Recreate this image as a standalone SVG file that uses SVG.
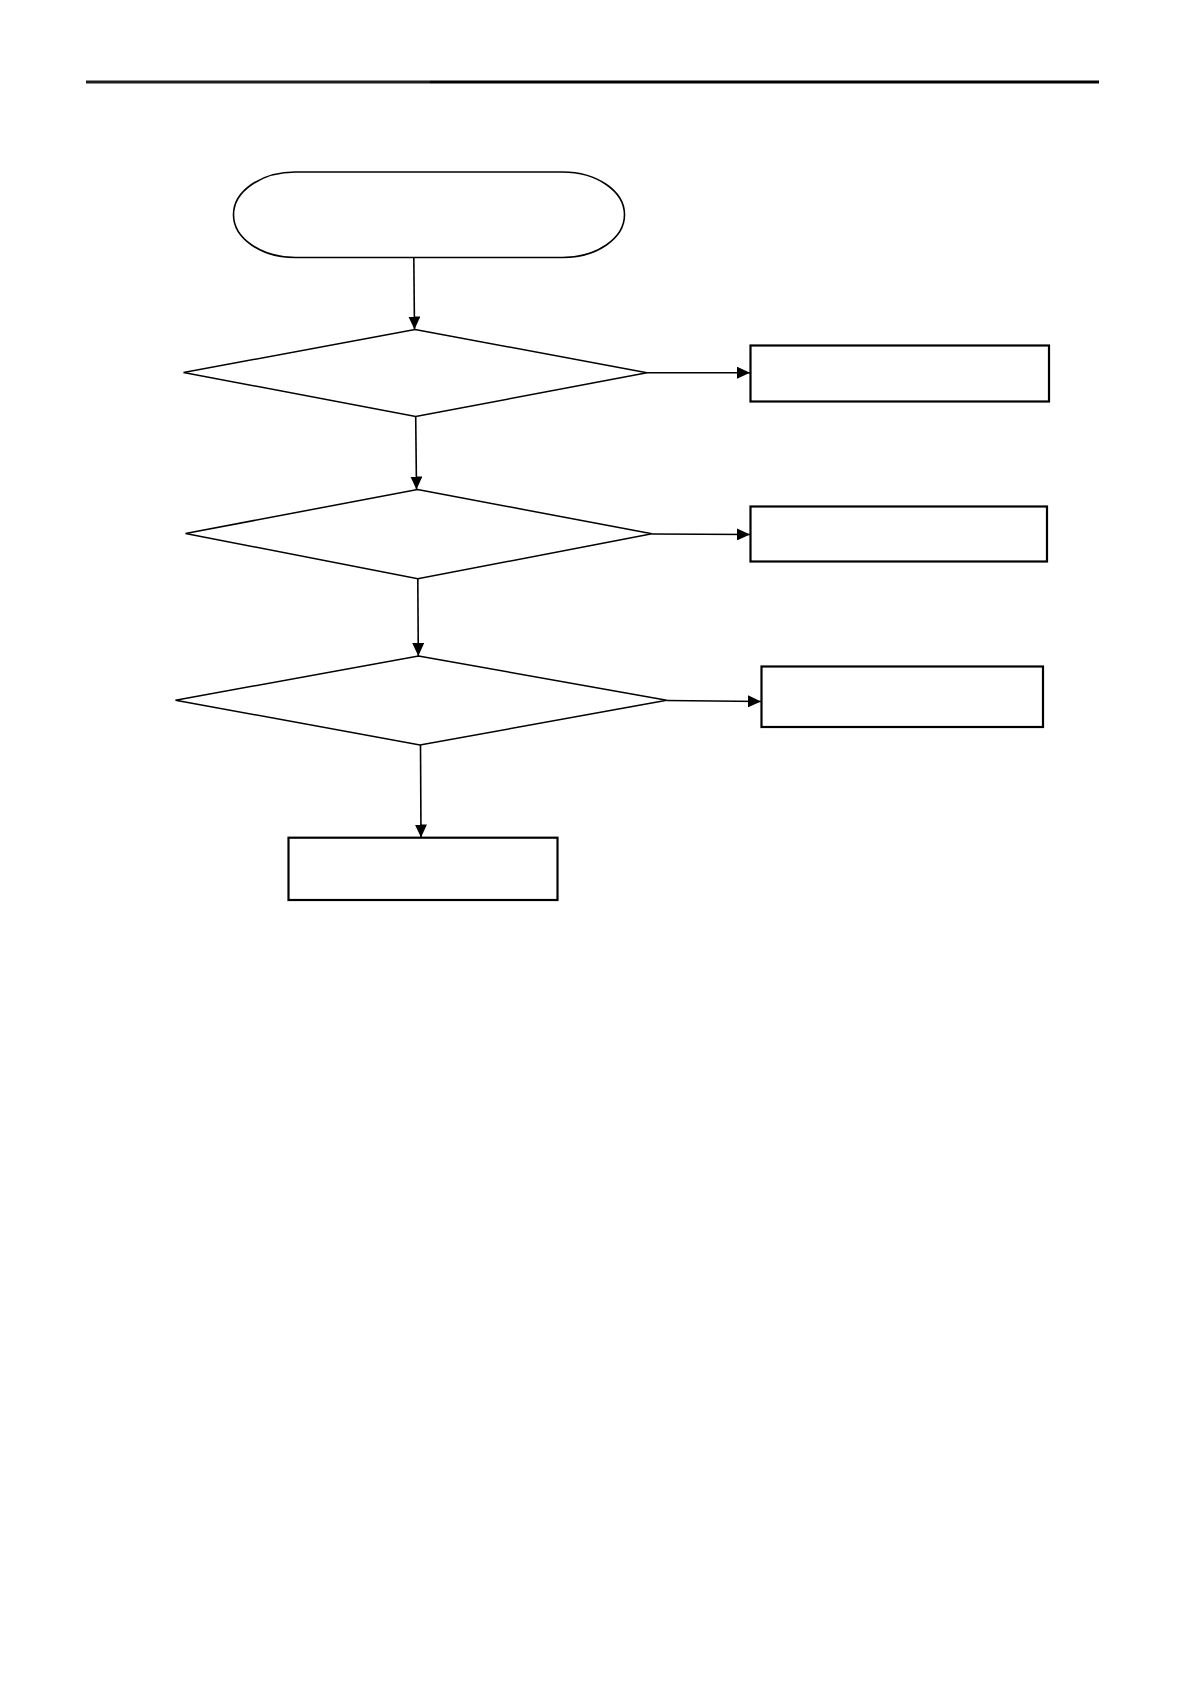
<svg xmlns="http://www.w3.org/2000/svg" width="1191" height="1684" viewBox="0 0 1191 1684">
<style>
.term{fill:#fff;stroke:#000;stroke-width:1.6}
.dec{fill:#fff;stroke:#000;stroke-width:1.5;stroke-linejoin:miter}
.proc{fill:#fff;stroke:#000;stroke-width:2.2}
.conn{fill:none;stroke:#000;stroke-width:1.6}
</style>
<defs>
<marker id="arr" markerUnits="userSpaceOnUse" markerWidth="13" markerHeight="12" refX="13" refY="6" orient="auto">
<path d="M0,0 L13,6 L0,12 z" fill="#000"/>
</marker>
</defs>
<rect x="0" y="0" width="1191" height="1684" fill="#fff"/>
<g id="header-rule">
<line x1="86" y1="82" x2="430" y2="82" stroke="#1c1c1c" stroke-width="3"/>
<line x1="430" y1="82" x2="1099" y2="82" stroke="#000" stroke-width="3"/>
</g>
<g id="start">
<rect class="term" x="233.5" y="172" width="391" height="85.5" rx="62" ry="42.75"/>
</g>
<g id="decision1">
<polygon class="dec" points="415,329.5 647,372.7 415.7,416.5 183.5,372.5"/>
</g>
<g id="box1">
<rect class="proc" x="750.5" y="345.5" width="298.5" height="56"/>
</g>
<g id="decision2">
<polygon class="dec" points="417.5,489.5 652,533.8 417.8,578.7 185.5,533.5"/>
</g>
<g id="box2">
<rect class="proc" x="750.5" y="506.5" width="296.5" height="55"/>
</g>
<g id="decision3">
<polygon class="dec" points="418.5,656 666.8,700.2 420,745 175.5,700.2"/>
</g>
<g id="box3">
<rect class="proc" x="761.5" y="666.5" width="281.5" height="60.5"/>
</g>
<g id="box4">
<rect class="proc" x="288.5" y="837.7" width="269" height="62.3"/>
</g>
<g id="connectors">
<line class="conn" x1="413.8" y1="257.5" x2="414.5" y2="329.5" marker-end="url(#arr)"/>
<line class="conn" x1="647" y1="372.7" x2="750" y2="372.7" marker-end="url(#arr)"/>
<line class="conn" x1="415.7" y1="416.5" x2="416.5" y2="489.5" marker-end="url(#arr)"/>
<line class="conn" x1="652" y1="534" x2="750" y2="534.5" marker-end="url(#arr)"/>
<line class="conn" x1="417.8" y1="578.7" x2="418.3" y2="656" marker-end="url(#arr)"/>
<line class="conn" x1="666.8" y1="700.5" x2="761" y2="701.5" marker-end="url(#arr)"/>
<line class="conn" x1="420.5" y1="745" x2="421" y2="837.5" marker-end="url(#arr)"/>
</g>
</svg>
